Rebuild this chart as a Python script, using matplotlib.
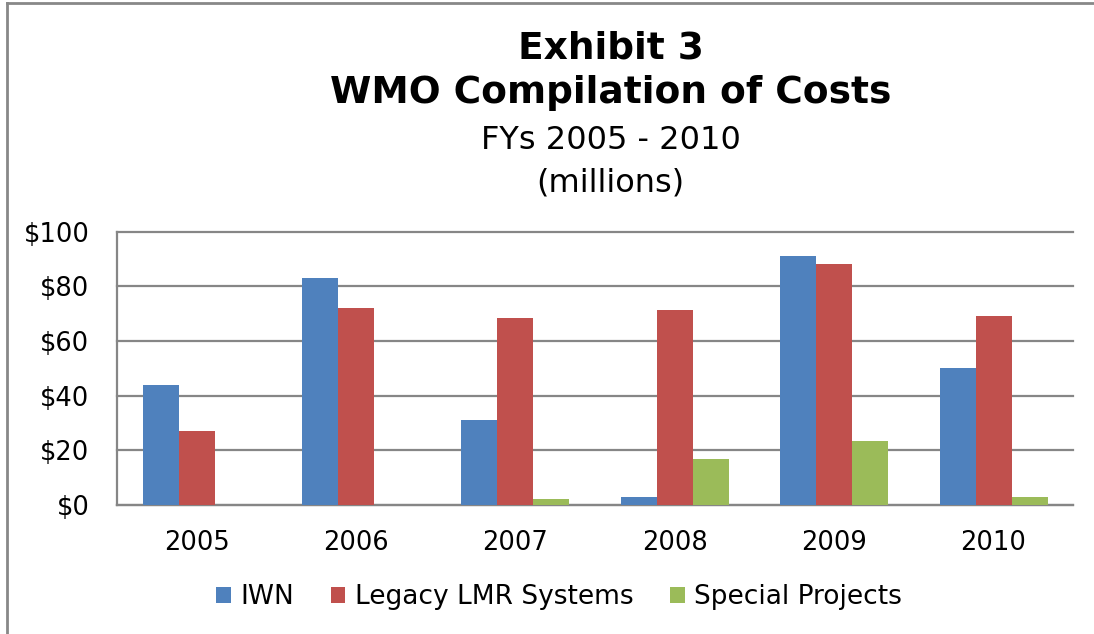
import numpy as np
import matplotlib
matplotlib.use('Agg')
import matplotlib.pyplot as plt
from matplotlib.lines import Line2D

years = ['2005', '2006', '2007', '2008', '2009', '2010']
iwn = [44, 83, 31, 3, 91, 50]
legacy = [27, 72, 68.5, 71.5, 88.3, 69.2]
special = [0, 0, 2.2, 16.8, 23.4, 3]
series_names = ['IWN', 'Legacy LMR Systems', 'Special Projects']
colors = ['#4F81BD', '#C0504D', '#9BBB59']

plt.rcParams['font.family'] = ['DejaVu Sans']

fig = plt.figure(figsize=(10.94, 6.34), dpi=100)
ax = fig.add_axes([0.107, 0.2035, 0.874, 0.431])

x = np.arange(len(years))
w = 0.226
for i, (vals, name) in enumerate(zip([iwn, legacy, special], series_names)):
    ax.bar(x + (i - 1) * w, vals, w, color=colors[i], label=name, zorder=3)

ax.set_xlim(-0.5, len(years) - 0.5)
ax.set_ylim(0, 100)
ax.set_yticks(range(0, 101, 20))
ax.set_yticklabels(['$%d' % v for v in range(0, 101, 20)])
ax.set_xticks(x)
ax.set_xticklabels(years)
ax.tick_params(axis='both', length=0, labelsize=18.5)
ax.tick_params(axis='x', pad=18)
ax.tick_params(axis='y', pad=20)
ax.grid(axis='y', color='#868686', linewidth=1.6, zorder=0)
for gl in ax.get_ygridlines():
    gl.set_clip_on(False)
for s in ['top', 'right']:
    ax.spines[s].set_visible(False)
for s in ['left', 'bottom']:
    ax.spines[s].set_color('#868686')
    ax.spines[s].set_linewidth(1.6)

leg = ax.legend(loc='center', bbox_to_anchor=(0.511, 0.058), bbox_transform=fig.transFigure,
                ncol=3, frameon=False, fontsize=19, handlelength=0.55, handleheight=0.55,
                handletextpad=0.35, columnspacing=1.4)

fig.text(0.558, 0.924, 'Exhibit 3', ha='center', va='center', fontsize=27, fontweight='bold')
fig.text(0.558, 0.853, 'WMO Compilation of Costs', ha='center', va='center', fontsize=27, fontweight='bold')
fig.text(0.558, 0.778, 'FYs 2005 - 2010', ha='center', va='center', fontsize=23)
fig.text(0.558, 0.712, '(millions)', ha='center', va='center', fontsize=23)

# chart border
fig.add_artist(Line2D([7 / 1094, 7 / 1094], [0, 1 - 3 / 634], color='#888888', linewidth=2, transform=fig.transFigure))
fig.add_artist(Line2D([7 / 1094, 1], [1 - 3 / 634, 1 - 3 / 634], color='#888888', linewidth=2, transform=fig.transFigure))

fig.savefig('out.png', dpi=100)
